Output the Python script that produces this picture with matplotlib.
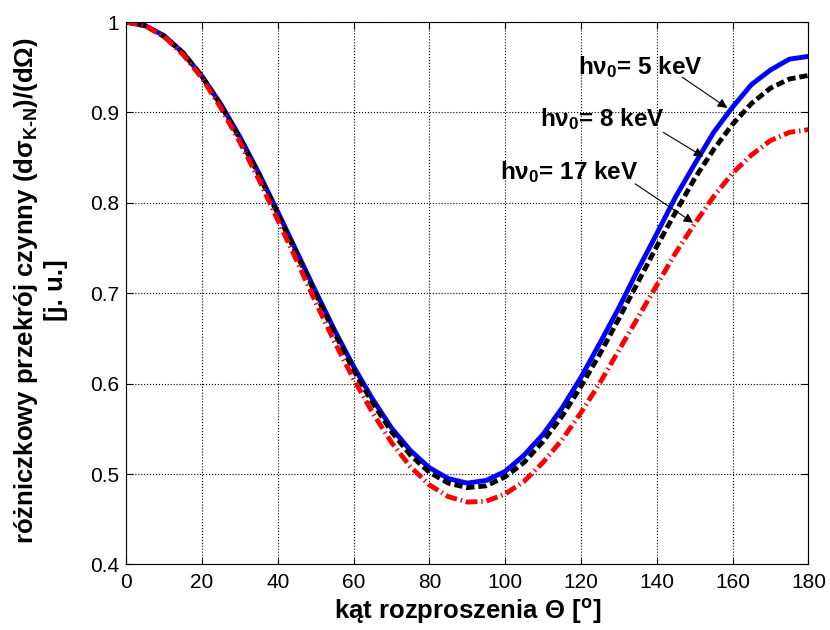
import numpy as np
import matplotlib.pyplot as plt

plt.rcParams['font.family'] = ['Liberation Sans', 'DejaVu Sans']
plt.rcParams['mathtext.fontset'] = 'custom'
plt.rcParams['mathtext.rm'] = 'Liberation Sans:bold'
plt.rcParams['mathtext.it'] = 'Liberation Sans:bold:italic'
plt.rcParams['mathtext.bf'] = 'Liberation Sans:bold'
plt.rcParams['mathtext.default'] = 'bf'

# scattering angle [deg], every 5 deg
theta = list(range(0, 181, 5))

# values
kn_5kev = [1.000, 0.996, 0.985, 0.966, 0.940, 0.909, 0.873, 0.833, 0.790, 0.746,
           0.702, 0.659, 0.619, 0.583, 0.551, 0.526, 0.507, 0.495, 0.490, 0.493,
           0.503, 0.521, 0.544, 0.573, 0.607, 0.645, 0.684, 0.726, 0.766, 0.807,
           0.843, 0.878, 0.906, 0.931, 0.947, 0.959, 0.962]
kn_8kev = [1.000, 0.996, 0.984, 0.966, 0.940, 0.908, 0.871, 0.831, 0.788, 0.743,
           0.699, 0.656, 0.615, 0.579, 0.547, 0.521, 0.502, 0.490, 0.485, 0.487,
           0.497, 0.513, 0.536, 0.564, 0.597, 0.633, 0.672, 0.712, 0.752, 0.790,
           0.827, 0.859, 0.887, 0.910, 0.927, 0.937, 0.941]
kn_17kev = [1.000, 0.996, 0.984, 0.964, 0.938, 0.905, 0.867, 0.826, 0.781, 0.736,
            0.690, 0.646, 0.605, 0.568, 0.535, 0.508, 0.488, 0.475, 0.469, 0.470,
            0.478, 0.492, 0.513, 0.538, 0.568, 0.601, 0.637, 0.673, 0.709, 0.745,
            0.777, 0.807, 0.833, 0.853, 0.869, 0.878, 0.881]

labels = [r'h$\nu_0$= 5 keV', r'h$\nu_0$= 8 keV', r'h$\nu_0$= 17 keV']
# label position (right edge), arrow tail, arrow tip (data coords)
label_xy = [(152.0, 0.950), (142.0, 0.893), (135.0, 0.834)]
arrow_from = [(146.7, 0.939), (141.7, 0.878), (134.3, 0.821)]
arrow_to = [(158.6, 0.905), (152.3, 0.851), (149.6, 0.778)]

fig = plt.figure(figsize=(8.3, 6.3), dpi=100)
ax = fig.add_axes([0.152, 0.104, 0.822, 0.861])

ax.plot(theta, kn_5kev, color='#0000ff', lw=3.5, solid_capstyle='butt')
ax.plot(theta, kn_8kev, color='black', lw=3.5, dashes=[1.7, 0.8])
ax.plot(theta, kn_17kev, color='#ff0000', lw=3.5, dashes=[2.4, 0.8, 0.3, 0.8])

for lab, xy, a0, a1 in zip(labels, label_xy, arrow_from, arrow_to):
    ax.text(xy[0], xy[1], lab, ha='right', va='center', fontsize=17.5,
            fontweight='bold')
    ax.annotate('', xy=a1, xytext=a0,
                arrowprops=dict(arrowstyle='-|>', color='black', lw=0.8,
                                mutation_scale=14, shrinkA=0, shrinkB=0))

ax.set_xlim(0, 180)
ax.set_ylim(0.4, 1.0)
ax.set_xticks(np.arange(0, 181, 20))
ax.set_yticks([0.4, 0.5, 0.6, 0.7, 0.8, 0.9, 1.0])
ax.set_yticklabels(['0.4', '0.5', '0.6', '0.7', '0.8', '0.9', '1'])
ax.tick_params(direction='in', top=True, right=True, labelsize=15, length=5)
ax.tick_params(axis='x', pad=6)
ax.tick_params(axis='y', pad=5)
ax.grid(True, color='black', linestyle=':', linewidth=0.8)

ax.set_xlabel(r'kąt rozproszenia Θ [$^\mathrm{o}$]', fontsize=18.5,
              fontweight='bold', labelpad=4)
ax.set_ylabel('różniczkowy przekrój czynny (d$\\sigma_{\\mathrm{K\\text{-}N}}$)/(dΩ)\n[j. u.]',
              fontsize=18.5, fontweight='bold')
ax.yaxis.set_label_coords(-0.085, 0.505)

fig.savefig('out.png', dpi=100)
